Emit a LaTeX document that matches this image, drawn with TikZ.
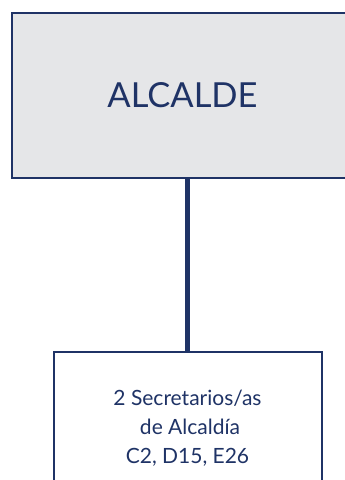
\documentclass[tikz,border=0pt]{standalone}
\usepackage{fontspec}
\setmainfont{Lato}
\definecolor{navy}{HTML}{1F3366}
\definecolor{boxgray}{HTML}{E5E6E8}
\begin{document}
\begin{tikzpicture}[x=1pt,y=-1pt,
  boxline/.style={draw=navy,line width=2pt},
  txt/.style={text=navy,align=center,inner sep=0pt}]
\useasboundingbox (0,0) rectangle (345,480);
\begin{scope}
\clip (0,0) rectangle (345,480);
\path[boxline,fill=boxgray] (11.5,12.5) rectangle (360,178);
\coordinate (top) at (187.5,178);
\coordinate (bot) at (187.5,352);
\draw[navy,line width=5pt] (top) -- (bot);
\path[boxline,fill=white] (53.5,352) rectangle (322,500);
\end{scope}
\node[txt,font=\fontsize{34.5}{34.5}\selectfont,anchor=base] (alc) at (182.5,107) {ALCALDE};
\node[txt,font=\fontsize{21}{29}\selectfont,anchor=base] (sec1) at (187.5,405) {2 Secretarios/as};
\node[txt,font=\fontsize{21}{29}\selectfont,anchor=base] (sec2) at (190,434) {de Alcaldía};
\node[txt,font=\fontsize{21}{29}\selectfont,anchor=base] (sec3) at (187.5,463) {C2, D15, E26};
\end{tikzpicture}
\end{document}
